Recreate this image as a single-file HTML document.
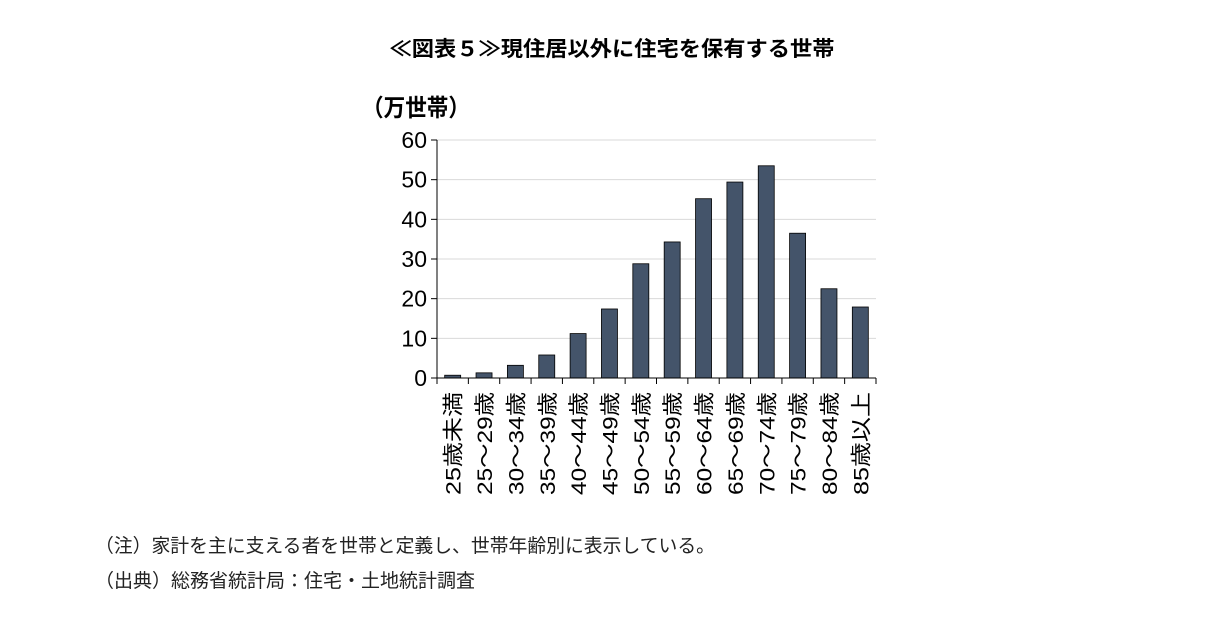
<!DOCTYPE html>
<html><head><meta charset="utf-8"><style>
body{margin:0;width:1206px;height:616px;background:#fff;overflow:hidden;font-family:"Liberation Sans","Noto Sans CJK JP",sans-serif;}
</style></head><body>
<svg width="1206" height="616" xmlns="http://www.w3.org/2000/svg" style="font-family:'Liberation Sans','Noto Sans CJK JP',sans-serif">
<text x="612" y="56" text-anchor="middle" font-size="21" font-weight="bold" fill="#000" textLength="445" lengthAdjust="spacingAndGlyphs">≪図表５≫現住居以外に住宅を保有する世帯</text>
<text x="362" y="116" font-size="24" font-weight="bold" fill="#000" textLength="108" lengthAdjust="spacingAndGlyphs">（万世帯）</text>
<g id="grid"></g><g id="bars"></g><g id="axes"></g>
<text x="95" y="552" font-size="19" fill="#222" textLength="620" lengthAdjust="spacingAndGlyphs">（注）家計を主に支える者を世帯と定義し、世帯年齢別に表示している。</text>
<text x="95" y="587" font-size="19" fill="#222" textLength="380" lengthAdjust="spacingAndGlyphs">（出典）総務省統計局：住宅・土地統計調査</text>
</svg>
<script>
const categories=["25歳未満","25～29歳","30～34歳","35～39歳","40～44歳","45～49歳","50～54歳","55～59歳","60～64歳","65～69歳","70～74歳","75～79歳","80～84歳","85歳以上"];
const values=[0.7,1.3,3.2,5.8,11.2,17.4,28.8,34.3,45.2,49.4,53.5,36.5,22.5,17.9];
const yTicks=[0,10,20,30,40,50,60];
const NS="http://www.w3.org/2000/svg";
const x0=437,x1=876,yB=378,yT=140,yMax=60;
const cw=(x1-x0)/categories.length;
const y=v=>yB-(v/yMax)*(yB-yT);
function mk(t,a,p){const e=document.createElementNS(NS,t);for(const k in a)e.setAttribute(k,a[k]);p.appendChild(e);return e;}
const grid=document.getElementById('grid'),bars=document.getElementById('bars'),axes=document.getElementById('axes');
yTicks.forEach(t=>{
 if(t>0){const g=mk('line',{x1:x0,x2:x1,y1:y(t),y2:y(t),stroke:'#d9d9d9','stroke-width':1},grid);
 
 }
 const tk=mk('line',{x1:x0-6,x2:x0,y1:y(t),y2:y(t),stroke:'#000'},axes);
 
 
 const l=mk('text',{x:x0-10,y:y(t)+8,'text-anchor':'end','font-size':23,fill:'#000'},axes);
 l.textContent=t;
 
 
});
values.forEach((v,i)=>{
 const cx=x0+cw*(i+0.5);
 const r=mk('rect',{x:cx-8,y:y(v),width:16,height:yB-y(v),fill:'#44546a',stroke:'#000','stroke-width':0.8},bars);
 
 
 const l=mk('text',{transform:`translate(${cx+8},${yB+14}) rotate(-90)`,'text-anchor':'end','font-size':21,fill:'#000',textLength:103,lengthAdjust:'spacingAndGlyphs'},axes);
 l.textContent=categories[i];
 
 
});
for(let i=0;i<=categories.length;i++){
 const tk=mk('line',{x1:x0+cw*i,x2:x0+cw*i,y1:yB,y2:yB+6,stroke:'#000'},axes);
 
 
}
const ya=mk('line',{x1:x0,x2:x0,y1:yT,y2:yB,stroke:'#000'},axes);


const xa=mk('line',{x1:x0,x2:x1,y1:yB,y2:yB,stroke:'#000'},axes);


</script>
</body></html>
